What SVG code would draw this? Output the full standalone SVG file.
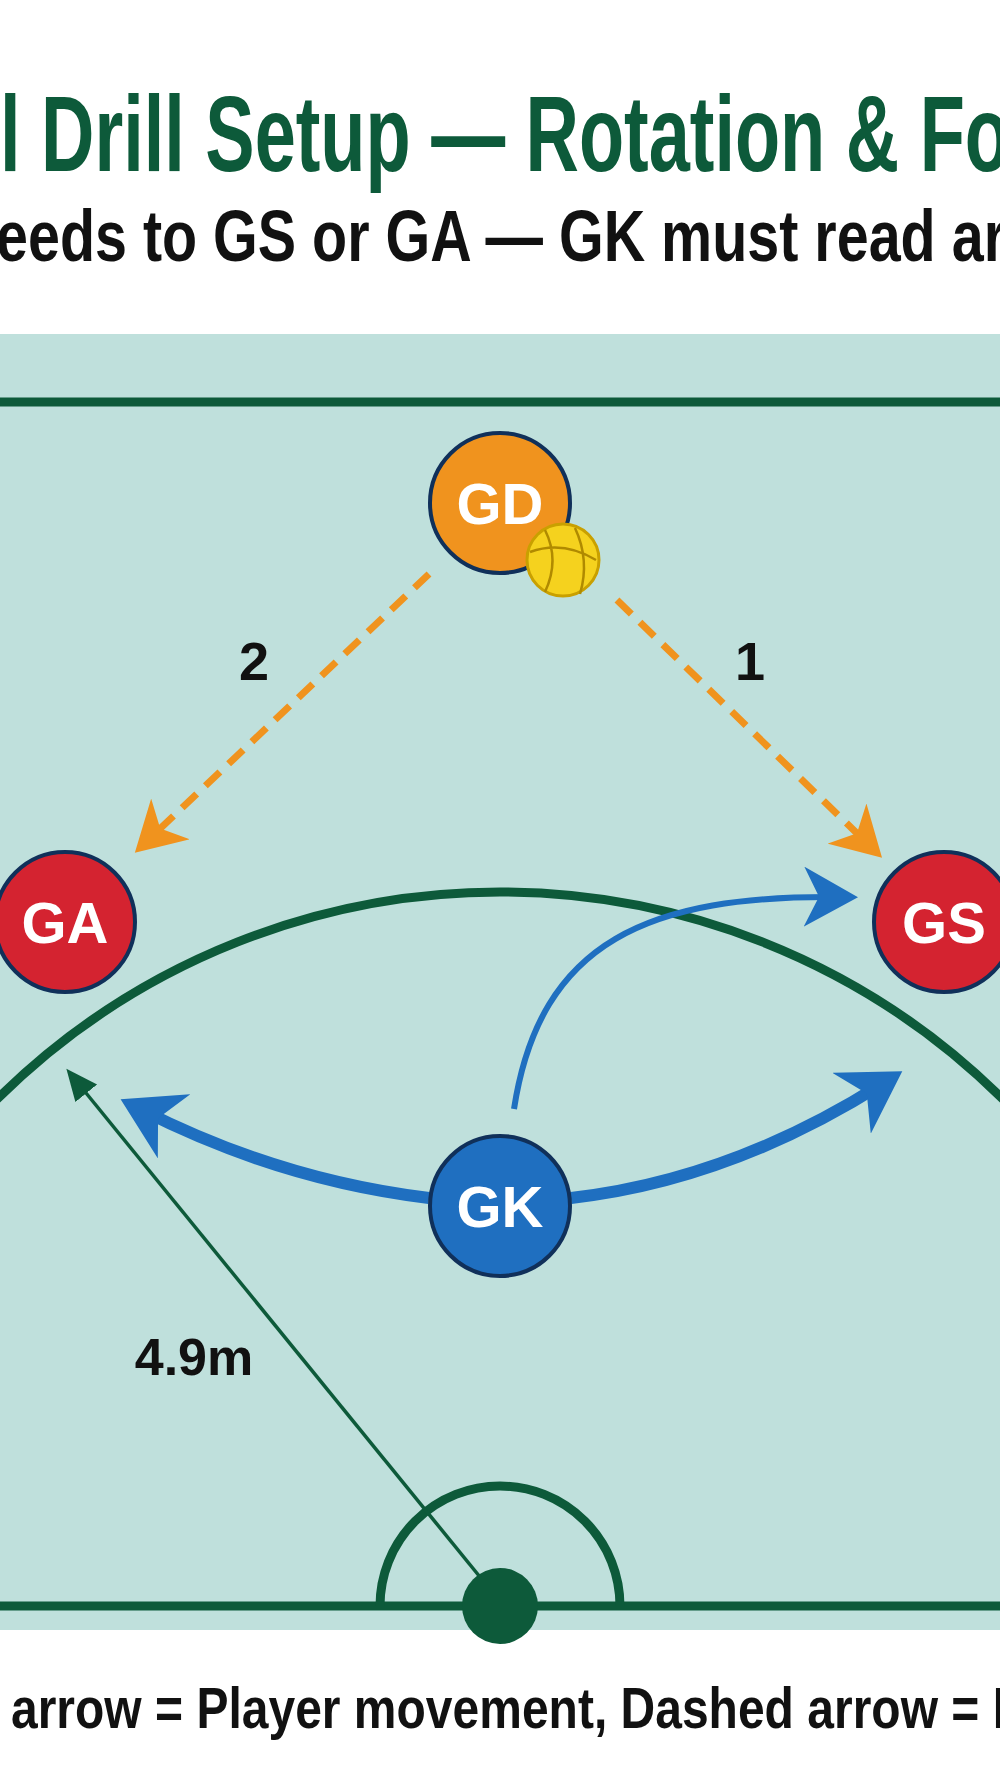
<svg xmlns="http://www.w3.org/2000/svg" width="1000" height="1792" viewBox="0 0 1000 1792">
<style>
.t{font-family:"Liberation Sans",Arial,sans-serif;font-weight:bold}
.pl{font-family:"Liberation Sans",Arial,sans-serif;font-weight:bold;font-size:58px;fill:#fff;text-anchor:middle}
.dash{stroke:#f0931e;stroke-width:7;stroke-dasharray:20 12;fill:none}
.mv{stroke:#1f6fc0;fill:none}
</style>
<defs>
<marker id="ao" markerWidth="8" markerHeight="8" refX="5" refY="4" orient="auto" markerUnits="strokeWidth"><path d="M0,0 L7,4 L0,8 L2,4 Z" fill="#f0931e"/></marker>
<marker id="ab" markerWidth="6" markerHeight="6" refX="3" refY="3" orient="auto" markerUnits="strokeWidth"><path d="M0,0 L5,3 L0,6 L1.5,3 Z" fill="#1f6fc0"/></marker>
<marker id="ab2" markerWidth="10" markerHeight="10" refX="6" refY="5" orient="auto" markerUnits="strokeWidth"><path d="M0,0 L9,5 L0,10 L2.5,5 Z" fill="#1f6fc0"/></marker>
<marker id="ag" markerWidth="10" markerHeight="10" refX="6" refY="5" orient="auto" markerUnits="strokeWidth"><path d="M0,1 L9,5 L0,9 Z" fill="#0d5a3a"/></marker>
</defs>
<rect width="1000" height="1792" fill="#fff"/>
<text class="t" x="0" y="171" font-size="108" fill="#0d5a3a" textLength="1010" lengthAdjust="spacingAndGlyphs">l Drill Setup — Rotation &amp; Fo</text>
<text class="t" x="-4" y="261" font-size="72" fill="#111" textLength="1010" lengthAdjust="spacingAndGlyphs">eeds to GS or GA — GK must read ar</text>
<rect x="0" y="334" width="1000" height="1296" fill="#bfe0dc"/>
<g id="court" fill="none" stroke="#0d5a3a" stroke-width="9">
<line x1="0" y1="402" x2="1000" y2="402"/>
<line x1="0" y1="1606" x2="1000" y2="1606"/>
<circle cx="500" cy="1606" r="714"/>
<path d="M380,1606 A120,120 0 0 1 620,1606"/>
</g>
<circle cx="500" cy="1606" r="38" fill="#0d5a3a"/>
<g id="connectors">
<line x1="480" y1="1577" x2="73" y2="1077" stroke="#0d5a3a" stroke-width="3.5" marker-end="url(#ag)"/>
<line class="dash" x1="429" y1="574" x2="145" y2="843" marker-end="url(#ao)"/>
<line class="dash" x1="617" y1="600" x2="872" y2="848" marker-end="url(#ao)"/>
<path class="mv" d="M429,1198 Q280,1180 142,1110" stroke-width="12" marker-end="url(#ab)"/>
<path class="mv" d="M571,1198 Q730,1180 882,1084" stroke-width="12" marker-end="url(#ab)"/>
<path class="mv" d="M514,1109 C540,940 650,895 840,897" stroke-width="6" marker-end="url(#ab2)"/>
</g>
<text class="t" x="254" y="680" font-size="54" fill="#111" text-anchor="middle">2</text>
<text class="t" x="750" y="680" font-size="54" fill="#111" text-anchor="middle">1</text>
<text class="t" x="194" y="1375" font-size="52" fill="#111" text-anchor="middle">4.9m</text>
<g id="GD"><circle cx="500" cy="503" r="70" fill="#f0931e" stroke="#10305a" stroke-width="4"/><text class="pl" x="500" y="524">GD</text></g>
<g id="ball"><circle cx="563" cy="560" r="36" fill="#f5d21e" stroke="#c9a000" stroke-width="3"/><path d="M530,552 Q563,540 596,560 M545,530 Q560,560 545,592 M575,528 Q590,560 580,594" fill="none" stroke="#b08a00" stroke-width="2.5"/></g>
<g id="GA"><circle cx="65" cy="922" r="70" fill="#d42330" stroke="#10305a" stroke-width="4"/><text class="pl" x="65" y="943">GA</text></g>
<g id="GS"><circle cx="944" cy="922" r="70" fill="#d42330" stroke="#10305a" stroke-width="4"/><text class="pl" x="944" y="943">GS</text></g>
<g id="GK"><circle cx="500" cy="1206" r="70" fill="#1f6fc0" stroke="#10305a" stroke-width="4"/><text class="pl" x="500" y="1227">GK</text></g>
<text class="t" x="11" y="1728" font-size="58" fill="#111" textLength="995" lengthAdjust="spacingAndGlyphs">arrow = Player movement, Dashed arrow = I</text>
</svg>
